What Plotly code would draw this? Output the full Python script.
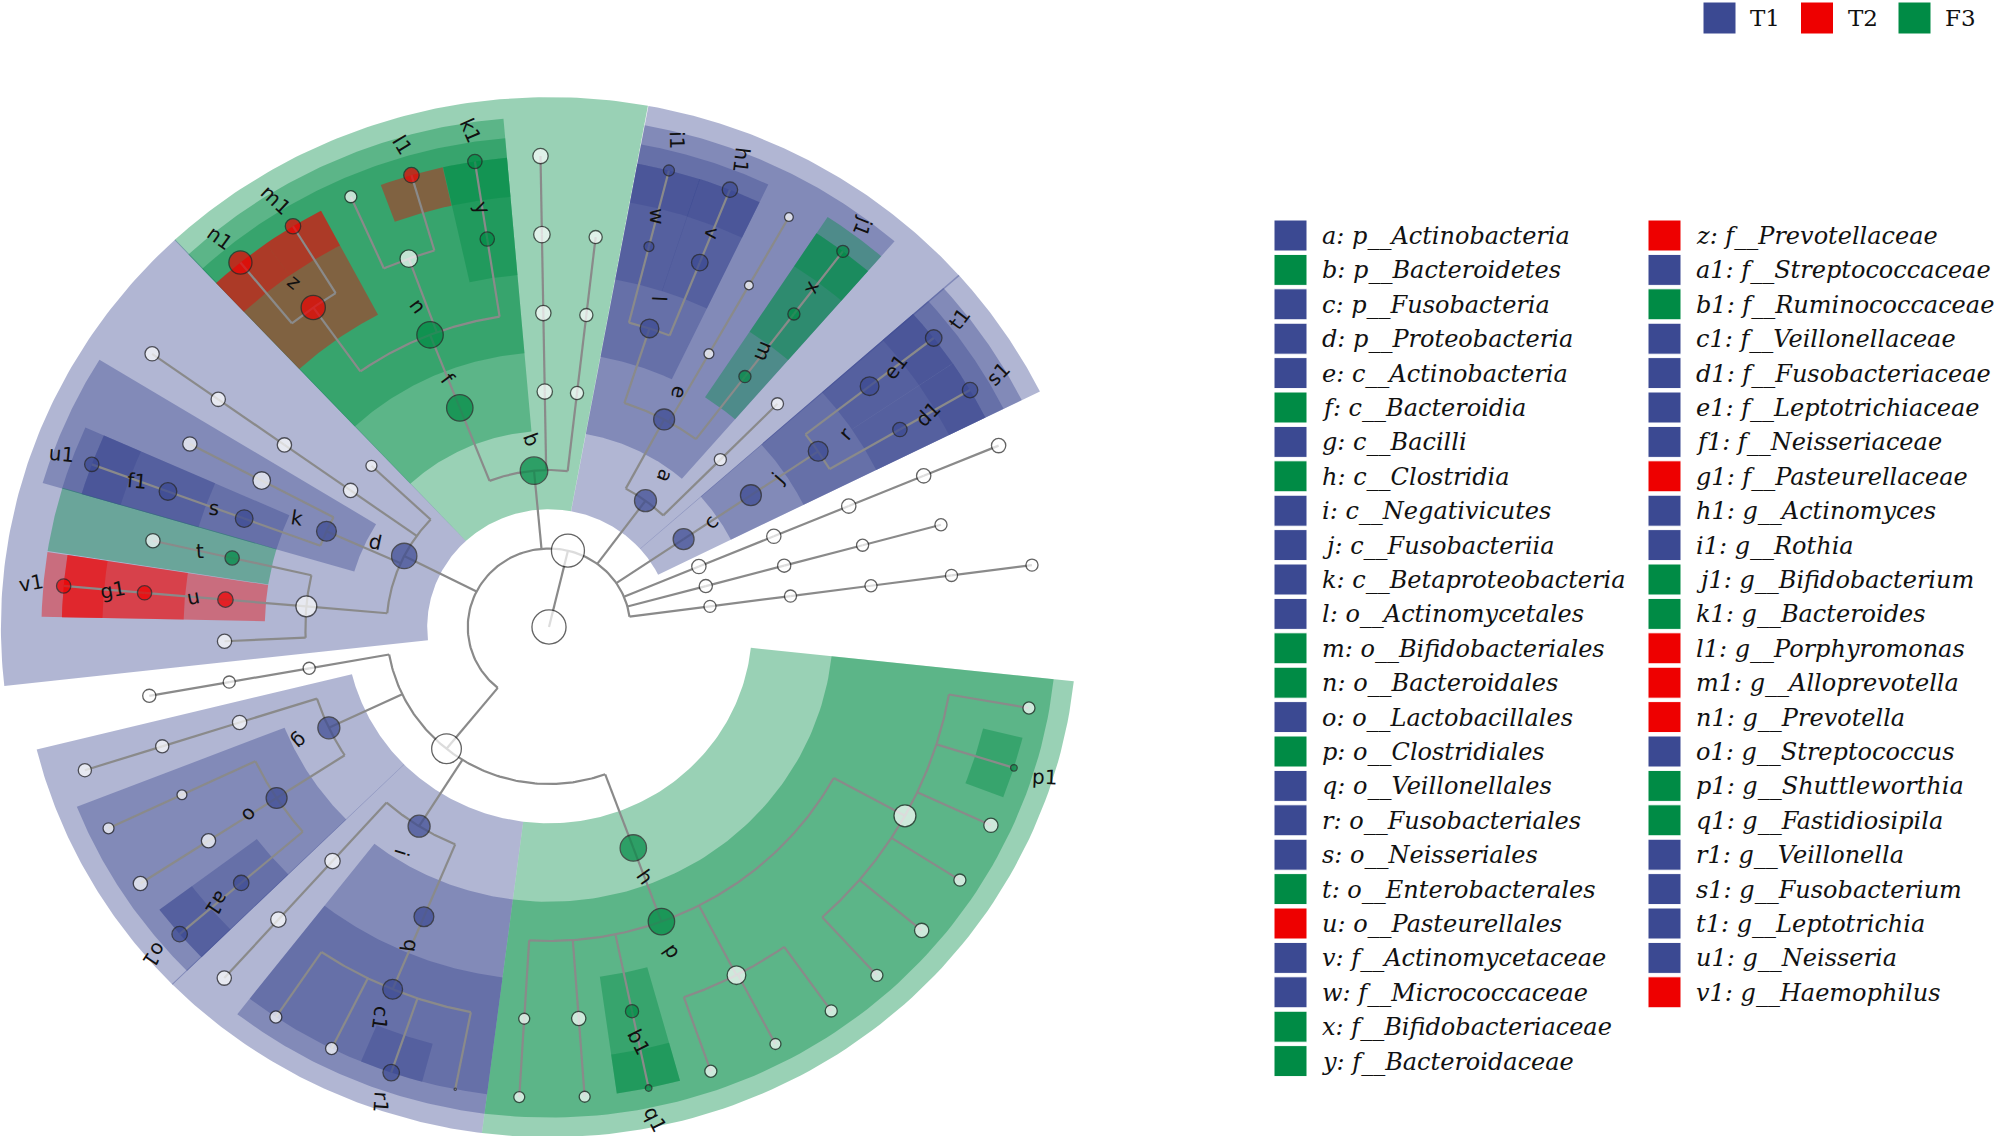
import numpy as np
import plotly.graph_objects as go

# groups and their colours
groups = ["T1", "T2", "F3"]
group_colors = {"T1": "#3B4992", "T2": "#EE0000", "F3": "#008B45"}

# biomarker legend (letter, taxon, group)
legend_keys = ["a", "b", "c", "d", "e", "f", "g", "h", "i", "j", "k", "l", "m",
               "n", "o", "p", "q", "r", "s", "t", "u", "v", "w", "x", "y",
               "z", "a1", "b1", "c1", "d1", "e1", "f1", "g1", "h1", "i1", "j1",
               "k1", "l1", "m1", "n1", "o1", "p1", "q1", "r1", "s1", "t1", "u1", "v1"]
legend_taxa = ["p__Actinobacteria", "p__Bacteroidetes", "p__Fusobacteria", "p__Proteobacteria",
               "c__Actinobacteria", "c__Bacteroidia", "c__Bacilli", "c__Clostridia",
               "c__Negativicutes", "c__Fusobacteriia", "c__Betaproteobacteria",
               "o__Actinomycetales", "o__Bifidobacteriales", "o__Bacteroidales",
               "o__Lactobacillales", "o__Clostridiales", "o__Veillonellales",
               "o__Fusobacteriales", "o__Neisseriales", "o__Enterobacterales",
               "o__Pasteurellales", "f__Actinomycetaceae", "f__Micrococcaceae",
               "f__Bifidobacteriaceae", "f__Bacteroidaceae",
               "f__Prevotellaceae", "f__Streptococcaceae", "f__Ruminococcaceae",
               "f__Veillonellaceae", "f__Fusobacteriaceae", "f__Leptotrichiaceae",
               "f__Neisseriaceae", "f__Pasteurellaceae", "g__Actinomyces", "g__Rothia",
               "g__Bifidobacterium", "g__Bacteroides", "g__Porphyromonas",
               "g__Alloprevotella", "g__Prevotella", "g__Streptococcus",
               "g__Shuttleworthia", "g__Fastidiosipila", "g__Veillonella",
               "g__Fusobacterium", "g__Leptotrichia", "g__Neisseria", "g__Haemophilus"]
legend_group = ["T1", "F3", "T1", "T1", "T1", "F3", "T1", "F3", "T1", "T1", "T1",
                "T1", "F3", "F3", "T1", "F3", "T1", "T1", "T1", "F3", "T2",
                "T1", "T1", "F3", "F3",
                "T2", "T1", "F3", "T1", "T1", "T1", "T1", "T2", "T1", "T1", "F3",
                "F3", "T2", "T2", "T2", "T1", "F3", "F3", "T1", "T1", "T1", "T1", "T2"]

# cladogram: (node, parent, node size ~ abundance)
tree = [
    ("root", None, 31), ("K", "root", 30),
    # Actinobacteria
    ("a", "K", 20), ("e", "a", 19), ("l", "e", 17), ("w", "l", 9), ("i1", "w", 10),
    ("v", "l", 15), ("h1", "v", 14), ("e_o", "e", 9), ("e_of", "e_o", 8), ("e_ofg", "e_of", 8),
    ("m", "e", 11), ("x", "m", 11), ("j1", "x", 11), ("a_c", "a", 11), ("a_co", "a_c", 11),
    # Fusobacteria
    ("c", "K", 19), ("j", "c", 19), ("r", "j", 18), ("e1", "r", 17), ("t1", "e1", 15),
    ("d1", "r", 13), ("s1", "d1", 14),
    # unnamed phyla
    ("ph1", "K", 13), ("ph1_c", "ph1", 13), ("ph1_o", "ph1_c", 13), ("ph1_f", "ph1_o", 13), ("ph1_g", "ph1_f", 13),
    ("ph2", "K", 12), ("ph2_c", "ph2", 12), ("ph2_o", "ph2_c", 11), ("ph2_f", "ph2_o", 11),
    ("ph3", "K", 11), ("ph3_c", "ph3", 11), ("ph3_o", "ph3_c", 11), ("ph3_f", "ph3_o", 11), ("ph3_g", "ph3_f", 11),
    # Bacteroidetes
    ("b", "K", 25), ("f", "b", 24), ("n", "f", 24), ("z", "n", 22), ("n1", "z", 21), ("m1", "z", 14),
    ("n_f", "n", 16), ("n_fg", "n_f", 11), ("l1", "n_f", 14), ("y", "n", 13), ("k1", "y", 13),
    ("b_c", "b", 14), ("b_co", "b_c", 14), ("b_cof", "b_co", 15), ("b_cofg", "b_cof", 14),
    ("b_d", "b", 12), ("b_do", "b_d", 12), ("b_dof", "b_do", 12),
    # Proteobacteria
    ("d", "K", 23), ("d_c", "d", 10), ("d_e", "d", 13), ("d_eo", "d_e", 13), ("d_eof", "d_eo", 13),
    ("d_eofg", "d_eof", 13), ("k", "d", 18), ("k_o", "k", 16), ("k_of", "k_o", 13),
    ("s", "k", 16), ("f1", "s", 16), ("u1", "f1", 13),
    ("gam", "d", 19), ("t", "gam", 13), ("t_f", "t", 13), ("u", "gam", 14), ("g1", "u", 13),
    ("v1", "g1", 13), ("gam_o", "gam", 13),
    # Firmicutes
    ("fir", "K", 27), ("fir_c", "fir", 11), ("fir_co", "fir_c", 11), ("fir_cof", "fir_co", 12),
    ("g", "fir", 20), ("g_o", "g", 13), ("g_of", "g_o", 12), ("g_ofg", "g_of", 12),
    ("o", "g", 19), ("o_f1", "o", 9), ("o_g1", "o_f1", 10), ("o_f2", "o", 13), ("o_g2", "o_f2", 13),
    ("a1", "o", 14), ("o1", "a1", 14),
    ("i", "fir", 20), ("i_o", "i", 14), ("i_of", "i_o", 14), ("i_ofg", "i_of", 13),
    ("q", "i", 18), ("c1", "q", 18), ("c1_g1", "c1", 11), ("c1_g2", "c1", 11), ("r1", "c1", 15),
    ("c1_g3", "c1", 2),
    ("h", "fir", 24), ("p", "h", 24), ("p_f1", "p", 10), ("p_f1g", "p_f1", 10),
    ("p_f2", "p", 13), ("p_f2g", "p_f2", 10), ("b1", "p", 12), ("q1", "b1", 6),
    ("p_f4", "p", 17), ("p_f4g1", "p_f4", 11), ("p_f4g2", "p_f4", 10), ("p_f4g3", "p_f4", 11),
    ("p_f5", "p", 20), ("p_f5g1", "p_f5", 11), ("p_f5g2", "p_f5", 13), ("p_f5g3", "p_f5", 11),
    ("p_f5g4", "p_f5", 13), ("p1", "p_f5", 6), ("p_f5g6", "p_f5", 11),
]

# angle (deg) of every terminal node
leaf_angle = {
    "ph3_g": 7.55, "ph2_f": 15.1, "ph1_g": 22.65, "s1": 30.2, "t1": 37.85,
    "a_co": 45.3, "j1": 52.9, "e_ofg": 60.5, "h1": 68.2, "i1": 75.75,
    "b_dof": 83.4, "b_cofg": 91.0, "k1": 98.75, "l1": 106.4, "n_fg": 114.0,
    "m1": 121.7, "n1": 129.3, "d_c": 136.8, "d_eofg": 144.55, "k_of": 152.2,
    "u1": 159.8, "t_f": 167.3, "v1": 175.0, "gam_o": 182.6, "fir_cof": 190.1,
    "g_ofg": 197.7, "o_g1": 205.3, "o_g2": 213.0, "o1": 220.7, "i_ofg": 228.2,
    "c1_g1": 235.9, "c1_g2": 243.5, "r1": 251.1, "c1_g3": 258.9, "p_f1g": 266.5,
    "p_f2g": 274.2, "q1": 281.8, "p_f4g1": 289.4, "p_f4g2": 297.7, "p_f4g3": 305.4,
    "p_f5g1": 312.3, "p_f5g2": 319.9, "p_f5g3": 327.5, "p_f5g4": 335.1, "p1": 342.6,
    "p_f5g6": 350.1,
}

W, H = 2008, 1136
CX, CY = 549, 627          # centre of the cladogram (px)
UX, UY = 81.2, 78.5        # px per tree level
HALF = 3.8                 # half width of a leaf slot (deg)
OUTER = {2: 6.75, 3: 6.5, 4: 6.25, 5: 6.0, 6: 6.0}
LINE_COL = "#8a8a8a"
NODE_SCALE = 1.1

group_of = dict(zip(legend_keys, legend_group))
kids = {}
level = {}
for n, p, s in tree:
    level[n] = 0 if p is None else level[p] + 1
    if p is not None:
        kids.setdefault(p, []).append(n)


def angle_of(n):
    if n in leaf_angle:
        return leaf_angle[n]
    return float(np.mean([angle_of(c) for c in kids[n]]))


def leaves(n):
    if n not in kids:
        return [n]
    out = []
    for c in kids[n]:
        out += leaves(c)
    return out


theta = {n: angle_of(n) for n, _, _ in tree}


def xy(r, t):
    t = np.radians(t)
    return r * np.cos(t), r * np.sin(t)


def rgba(hex_col, a):
    h = hex_col.lstrip("#")
    return "rgba(%d,%d,%d,%s)" % (int(h[0:2], 16), int(h[2:4], 16), int(h[4:6], 16), a)


fig = go.Figure()

# clade shading
marks = [n for n, _, _ in tree if n in group_of]
for n in sorted(marks, key=lambda m: level[m]):
    lv = level[n]
    la = [leaf_angle[l] for l in leaves(n)]
    ts = np.linspace(min(la) - HALF, max(la) + HALF, 80)
    xo, yo = xy(OUTER[lv], ts)
    xi, yi = xy(lv - 0.5, ts[::-1])
    fig.add_trace(go.Scatter(
        x=np.concatenate([xo, xi]), y=np.concatenate([yo, yi]),
        mode="lines", fill="toself", line=dict(width=0),
        fillcolor=rgba(group_colors[group_of[n]], 0.4),
        hoverinfo="skip", showlegend=False))

# branches: arc at the parent's radius, then radial segment to each child
lx, ly = [], []
for n, _, _ in tree:
    if n not in kids:
        continue
    rp = level[n]
    ca = [theta[c] for c in kids[n]]
    if len(ca) > 1 and rp > 0:
        ts = np.linspace(min(ca), max(ca), 120)
        ax_, ay_ = xy(rp, ts)
        lx += list(ax_) + [None]
        ly += list(ay_) + [None]
    for c in kids[n]:
        x0, y0 = xy(rp, theta[c])
        x1, y1 = xy(level[c], theta[c])
        lx += [x0, x1, None]
        ly += [y0, y1, None]
fig.add_trace(go.Scatter(x=lx, y=ly, mode="lines",
                         line=dict(color=LINE_COL, width=2.2),
                         hoverinfo="skip", showlegend=False))

# nodes
nx, ny, ns, nc = [], [], [], []
for n, _, s in tree:
    x, y = xy(level[n], theta[n])
    nx.append(x)
    ny.append(y)
    ns.append(s * NODE_SCALE)
    nc.append(group_colors[group_of[n]] if n in group_of else "white")
fig.add_trace(go.Scatter(x=nx, y=ny, mode="markers",
                         marker=dict(size=ns, color=nc, line=dict(color="#222222", width=1.3)),
                         hoverinfo="skip", showlegend=False))

# biomarker letters
for n in marks:
    t = theta[n]
    x, y = xy(level[n] + 0.4, t)
    rot = t + 15
    if 45 <= t < 190:
        rot -= 180
    ang = -rot
    while ang > 180:
        ang -= 360
    while ang <= -180:
        ang += 360
    fig.add_annotation(x=x, y=y, text=n, showarrow=False, textangle=ang,
                       xanchor="center", yanchor="middle",
                       font=dict(family="DejaVu Sans", size=20, color="#111111"))


def px(v):
    return v / W


def py(v):
    return 1 - v / H


shapes = []
# group legend (top right)
for i, g in enumerate(groups):
    x0 = 1703 + 97.5 * i
    shapes.append(dict(type="rect", xref="paper", yref="paper",
                       x0=px(x0), x1=px(x0 + 33), y0=py(34), y1=py(2),
                       fillcolor=group_colors[g], line=dict(color="white", width=1)))
    fig.add_annotation(xref="paper", yref="paper", x=px(x0 + 45), y=py(18), text=g,
                       showarrow=False, xanchor="left", yanchor="middle",
                       font=dict(family="DejaVu Serif", size=23, color="#111111"))

# biomarker key
for i, (k, tx, g) in enumerate(zip(legend_keys, legend_taxa, legend_group)):
    col, row = divmod(i, 25)
    x0 = 1274 + 374 * col
    y0 = 220 + 34.4 * row
    shapes.append(dict(type="rect", xref="paper", yref="paper",
                       x0=px(x0), x1=px(x0 + 33), y0=py(y0 + 31), y1=py(y0),
                       fillcolor=group_colors[g], line=dict(color="white", width=1)))
    fig.add_annotation(xref="paper", yref="paper", x=px(x0 + 46), y=py(y0 + 16),
                       text=k + ": " + tx, showarrow=False, xanchor="left", yanchor="middle",
                       font=dict(family="DejaVu Serif", size=24, color="#111111", style="italic"))

fig.update_layout(
    width=W, height=H, margin=dict(l=0, r=0, t=0, b=0),
    plot_bgcolor="white", paper_bgcolor="white", shapes=shapes,
    xaxis=dict(visible=False, range=[-CX / UX, (W - CX) / UX], fixedrange=True),
    yaxis=dict(visible=False, range=[-(H - CY) / UY, CY / UY], fixedrange=True),
)

fig.write_html("out.html", config={"displayModeBar": False},
               post_script="document.body.style.margin='0px';")
